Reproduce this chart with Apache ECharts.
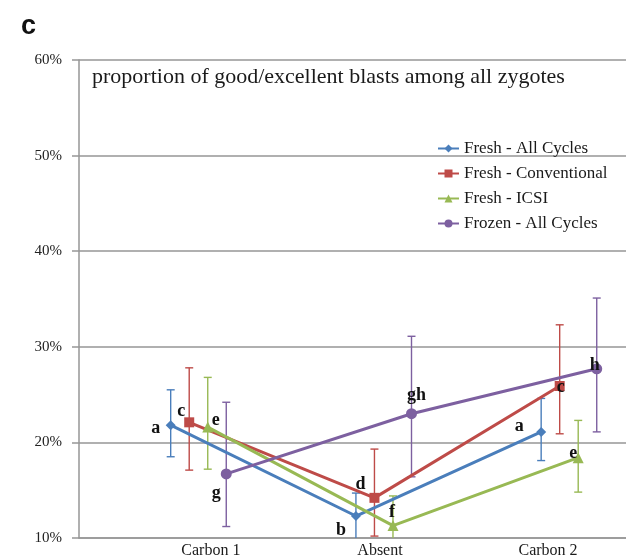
<!DOCTYPE html>
<html>
<head>
<meta charset="utf-8">
<script src="https://cdn.jsdelivr.net/npm/echarts@6/dist/echarts.min.js"></script>
<style>
  html, body { margin: 0; padding: 0; background: #fff; }
  #chart { width: 626px; height: 560px; }
</style>
</head>
<body>
<div id="chart"></div>
<script>
// categories and where their names sit on the x scale (groups at 1, 2, 3)
const categories = ['Carbon 1', 'Absent', 'Carbon 2']
const categoryLabelX = [1.067, 1.98, 2.887]
const yTicks = [10, 20, 30, 40, 50, 60]

// series
const seriesNames = ['Fresh - All Cycles', 'Fresh - Conventional', 'Fresh - ICSI', 'Frozen - All Cycles']
const seriesOffset = [-0.15, -0.05, 0.05, 0.15]

const freshAll = [21.8, 12.3, 21.1]
const freshAllLow = [18.5, 9.9, 18.1]
const freshAllHigh = [25.5, 14.7, 24.6]

const freshConv = [22.1, 14.2, 25.9]
const freshConvLow = [17.1, 10.2, 20.9]
const freshConvHigh = [27.8, 19.3, 32.3]

const freshIcsi = [21.6, 11.3, 18.4]
const freshIcsiLow = [17.2, 8.2, 14.8]
const freshIcsiHigh = [26.8, 14.4, 22.3]

const frozenAll = [16.7, 23.0, 27.7]
const frozenAllLow = [11.2, 16.4, 21.1]
const frozenAllHigh = [24.2, 31.1, 35.1]

const letters = [
  ['a', 'b', 'a'],
  ['c', 'd', 'c'],
  ['e', 'f', 'e'],
  ['g', 'gh', 'h']
]

// styling
const colors = ['#4a7ebb', '#be4b48', '#98b954', '#7d60a0']
const symbols = ['diamond', 'rect', 'triangle', 'circle']
const symbolSizes = [10, 10, 11, 11]
const letterOffsets = [
  [[-15, 3], [-15, 14], [-22, -6]],
  [[-8, -11], [-14, -14], [1, 1]],
  [[8, -7], [-1, -13], [-5, -4]],
  [[-10, 19], [5, -18], [-2, -3]]
]
const serif = '"Liberation Serif", "DejaVu Serif", serif'
const gridColor = '#969696'

const values = [freshAll, freshConv, freshIcsi, frozenAll]
const lows = [freshAllLow, freshConvLow, freshIcsiLow, frozenAllLow]
const highs = [freshAllHigh, freshConvHigh, freshIcsiHigh, frozenAllHigh]

let chart = echarts.init(document.getElementById('chart'))

let series = []
values.forEach((vals, s) => {
  // error bars
  series.push({
    type: 'custom',
    name: seriesNames[s] + ' err',
    clip: true,
    z: 1,
    silent: true,
    data: vals.map((v, i) => [i + 1 + seriesOffset[s], lows[s][i], highs[s][i]]),
    renderItem (params, api) {
      let lo = api.coord([api.value(0), api.value(1)])
      let hi = api.coord([api.value(0), api.value(2)])
      let w = 4
      let style = { stroke: colors[s], lineWidth: 1.4 }
      return {
        type: 'group',
        children: [
          { type: 'line', shape: { x1: lo[0], y1: lo[1], x2: hi[0], y2: hi[1] }, style },
          { type: 'line', shape: { x1: lo[0] - w, y1: lo[1], x2: lo[0] + w, y2: lo[1] }, style },
          { type: 'line', shape: { x1: hi[0] - w, y1: hi[1], x2: hi[0] + w, y2: hi[1] }, style }
        ]
      }
    }
  })
  // lines with markers and letters
  series.push({
    type: 'line',
    name: seriesNames[s],
    z: 3,
    color: colors[s],
    symbol: symbols[s],
    symbolSize: symbolSizes[s],
    lineStyle: { width: 3, color: colors[s] },
    itemStyle: { color: colors[s] },
    emphasis: { disabled: true },
    data: vals.map((v, i) => ({
      value: [i + 1 + seriesOffset[s], v],
      label: {
        show: true,
        position: 'inside',
        offset: letterOffsets[s][i],
        formatter: letters[s][i],
        fontFamily: serif,
        fontWeight: 'bold',
        fontSize: 18,
        color: '#111'
      }
    }))
  })
})

let option = {
  animation: false,
  backgroundColor: '#fff',
  grid: { left: 79, right: 0, top: 60, bottom: 22, containLabel: false },
  legend: {
    orient: 'vertical',
    left: 432,
    top: 135,
    itemWidth: 21,
    itemHeight: 10,
    itemGap: 8,
    data: seriesNames,
    textStyle: { fontFamily: serif, fontSize: 17, color: '#1a1a1a' }
  },
  graphic: [
    {
      type: 'text',
      left: 21,
      top: 13,
      style: { text: 'c', font: 'bold 27px "Liberation Sans", Arial, sans-serif', fill: '#111' }
    },
    {
      type: 'text',
      left: 92,
      top: 66,
      style: {
        text: 'proportion of good/excellent blasts among all zygotes',
        font: '22px ' + serif,
        letterSpacing: 0.75,
        fill: '#1a1a1a'
      }
    }
  ],
  xAxis: {
    type: 'value',
    min: 0.355,
    max: 3.308,
    axisLine: { show: true, lineStyle: { color: gridColor, width: 1.5 } },
    axisTick: { show: false },
    splitLine: { show: false },
    axisLabel: {
      customValues: categoryLabelX,
      margin: 5,
      fontFamily: serif,
      fontSize: 16,
      color: '#1a1a1a',
      formatter (v) {
        let best = 0
        categoryLabelX.forEach((x, i) => {
          if (Math.abs(x - v) < Math.abs(categoryLabelX[best] - v)) best = i
        })
        return categories[best]
      }
    }
  },
  yAxis: {
    type: 'value',
    min: yTicks[0],
    max: yTicks[yTicks.length - 1],
    interval: 10,
    axisLine: { show: true, onZero: false, lineStyle: { color: gridColor, width: 1.5 } },
    axisTick: { show: true, length: 7, lineStyle: { color: gridColor, width: 1.5 } },
    splitLine: { show: true, lineStyle: { color: gridColor, width: 1.5 } },
    axisLabel: {
      margin: 17,
      fontFamily: serif,
      fontSize: 15,
      color: '#222',
      formatter: '{value}%'
    }
  },
  series
}

chart.setOption(option)
</script>
</body>
</html>
